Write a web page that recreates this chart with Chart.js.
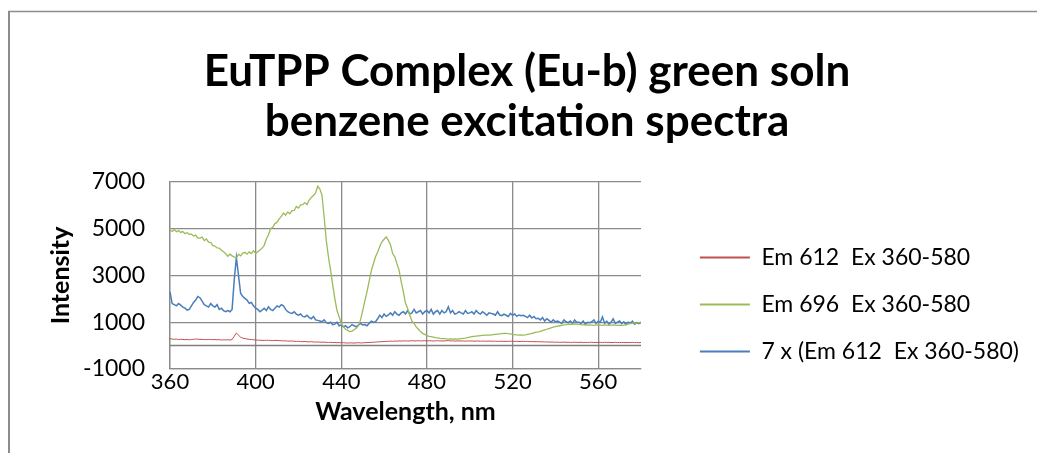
<!DOCTYPE html>
<html lang="en">
<head>
  <meta charset="UTF-8">
  <title>EuTPP Complex (Eu-b) green soln benzene excitation spectra</title>
  <style>
    body { margin: 0; background: #fff; }
    #wrap { width: 1037px; height: 453px; }
  </style>
  <script src="https://cdn.jsdelivr.net/npm/chart.js"></script>
</head>
<body>
<div id="wrap"><canvas id="myChart" width="1037" height="453"></canvas></div>
<script>
  // wavelength grid, 1 nm steps from 360 to 580
  const startNm = 360
  const stepNm = 1

  const seriesNames = ["Em 612  Ex 360-580", "Em 696  Ex 360-580", "7 x (Em 612  Ex 360-580)"]

  const em612 = [
    300,280,270,280,260,270,265,255,260,250,
    260,270,280,275,270,265,260,255,265,260,
    255,260,250,255,240,250,245,250,240,260,
    400,540,450,360,320,300,280,270,260,250,
    240,235,230,225,220,230,225,220,215,225,
    220,215,210,200,205,195,190,200,185,180,
    185,175,170,180,165,160,170,155,150,155,
    150,145,150,140,135,140,130,135,125,130,
    120,125,115,110,120,115,110,120,125,115,
    120,125,130,135,140,145,150,160,165,170,
    175,180,185,190,185,195,190,200,195,200,
    205,195,200,210,200,205,210,200,205,210,
    200,210,205,195,205,210,200,205,195,210,
    215,200,205,195,200,205,195,200,190,200,
    195,200,190,195,200,185,195,190,185,195,
    190,185,190,180,185,190,180,185,180,190,
    185,180,185,175,180,185,175,180,170,175,
    170,165,170,160,165,155,160,150,155,150,
    145,150,140,145,150,140,145,135,140,145,
    140,135,145,130,140,135,140,145,130,140,
    135,140,130,145,135,140,130,135,140,130,
    135,130,140,125,135,130,140,130,135,125,
    135
  ]

  const em696 = [
    4950,4880,4960,4870,4920,4840,4880,4790,4830,4760,
    4770,4690,4730,4600,4600,4640,4490,4560,4430,4420,
    4280,4260,4180,4170,4080,4020,3930,3820,3910,3840,
    3790,3740,3910,3840,3960,3990,3910,4010,3940,4060,
    3940,4020,4090,4170,4290,4560,4740,5010,5060,5220,
    5280,5420,5530,5670,5580,5720,5640,5770,5780,5950,
    5880,6020,6030,6120,6030,6220,6340,6420,6530,6820,
    6700,6430,5500,4500,3800,3230,2600,2000,1500,1230,
    950,810,700,650,600,620,680,740,850,1100,
    1500,1900,2300,2750,3200,3500,3800,4000,4250,4440,
    4550,4650,4500,4300,3940,3800,3500,3230,2730,2300,
    1810,1590,1300,1050,950,800,700,600,525,480,
    430,400,380,360,340,330,310,300,300,290,
    280,290,280,285,280,290,300,310,320,340,
    360,380,400,410,420,430,440,450,445,450,
    460,470,480,490,500,510,520,525,510,500,
    480,470,460,450,455,450,460,480,500,520,
    550,580,590,610,640,670,700,730,760,790,
    810,830,850,870,890,900,920,910,920,930,
    920,910,900,890,900,880,890,880,870,880,
    890,880,870,890,880,870,880,890,880,870,
    880,870,880,900,920,940,960,970,960,980,
    970
  ]

  const em612x7 = [
    2300,1800,1750,1700,1800,1730,1650,1600,1520,1550,
    1700,1850,1950,2100,2050,1900,1750,1700,1650,1800,
    1700,1650,1750,1550,1600,1500,1450,1500,1450,1550,
    2800,3770,3000,2230,2100,2020,1950,1810,1850,1700,
    1600,1550,1450,1520,1600,1500,1660,1550,1500,1600,
    1700,1650,1750,1700,1550,1450,1400,1380,1450,1350,
    1300,1350,1250,1230,1300,1200,1150,1250,1100,1080,
    1050,1020,1100,980,950,1000,900,920,1000,850,
    880,800,850,760,810,900,850,800,880,950,
    880,900,850,950,1050,1000,1020,1150,1300,1200,
    1350,1250,1310,1400,1300,1450,1350,1300,1400,1450,
    1350,1500,1350,1400,1550,1400,1450,1500,1350,1450,
    1500,1400,1550,1350,1450,1500,1350,1500,1400,1450,
    1660,1400,1500,1350,1380,1450,1400,1350,1500,1380,
    1400,1450,1350,1500,1400,1350,1450,1380,1300,1400,
    1380,1350,1300,1450,1310,1280,1350,1300,1250,1380,
    1300,1350,1250,1310,1280,1300,1250,1200,1300,1180,
    1250,1150,1170,1100,1200,1050,1150,1080,1000,1100,
    1020,1050,1000,950,1100,1020,980,1050,950,1100,
    1000,1000,950,1050,900,1000,980,1020,1100,950,
    1050,1000,1230,950,1050,920,1000,1150,950,1000,
    1050,940,1020,900,1000,960,1050,920,980,940,
    1000
  ]

  const xTicks = [360, 400, 440, 480, 520, 560]
  const yTicks = [-1000, 1000, 3000, 5000, 7000]

  const colors = ["#C0504D", "#9BBB59", "#4A7EBB"]
  const widths = [1, 1.3, 1.5]

  function toPoints(values) {
    return values.map((v, i) => ({ x: startNm + i * stepNm, y: v }))
  }

  const font = "Lato, 'Open Sans', sans-serif"
  const gridColor = "#8a8a8a"
  const plotRight = 641
  const padRight = 8

  // frame round the chart and the zero line (x axis crosses at 0)
  const extras = {
    id: "extras",
    beforeDraw(chart) {
      const ctx = chart.ctx
      ctx.save()
      ctx.strokeStyle = "#8c8c8c"
      ctx.lineWidth = 2
      ctx.beginPath()
      ctx.moveTo(9, 453)
      ctx.lineTo(9, 11)
      ctx.stroke()
      ctx.lineWidth = 1.5
      ctx.beginPath()
      ctx.moveTo(8, 11.5)
      ctx.lineTo(1037, 11.5)
      ctx.stroke()
      ctx.restore()
    },
    beforeDatasetsDraw(chart) {
      const ctx = chart.ctx
      const y0 = chart.scales.y.getPixelForValue(0)
      ctx.save()
      ctx.strokeStyle = "#7f7f7f"
      ctx.lineWidth = 1.5
      ctx.beginPath()
      ctx.moveTo(chart.chartArea.left, y0)
      ctx.lineTo(chart.chartArea.right, y0)
      ctx.stroke()
      ctx.restore()
    }
  }

  const data = {
    datasets: [em612, em696, em612x7].map((vals, i) => ({
      label: seriesNames[i],
      data: toPoints(vals),
      borderColor: colors[i],
      backgroundColor: colors[i],
      borderWidth: widths[i],
      pointRadius: 0,
      tension: 0
    }))
  }

  const config = {
    type: "line",
    data,
    plugins: [extras],
    options: {
      responsive: false,
      animation: false,
      layout: { padding: { left: 25, right: padRight, top: 0, bottom: 0 } },
      plugins: {
        tooltip: { enabled: false },
        title: {
          display: true,
          text: ["EuTPP Complex (Eu-b) green soln", "benzene excitation spectra"],
          color: "#000",
          font: { family: font, size: 44, weight: "bold", lineHeight: 1.136 },
          padding: { top: 47, bottom: 35 }
        },
        legend: {
          position: "right",
          align: "start",
          maxWidth: 500,
          title: { display: true, text: "", font: { size: 12, lineHeight: 1 }, padding: { top: 210, bottom: 0 } },
          labels: {
            color: "#000",
            font: { family: font, size: 23 },
            boxWidth: 50,
            boxHeight: 2,
            padding: 24,
            generateLabels(chart) {
              return Chart.defaults.plugins.legend.labels.generateLabels(chart)
                .map(item => Object.assign(item, { lineWidth: 0 }))
            }
          }
        }
      },
      scales: {
        x: {
          type: "linear",
          min: 360,
          max: 580,
          afterBuildTicks(scale) { scale.ticks = xTicks.map(v => ({ value: v })) },
          afterFit(scale) { scale.height = 84 },
          grid: { color: gridColor, lineWidth: 1.3, drawTicks: false },
          border: { color: gridColor, width: 1.3 },
          ticks: { color: "#000", font: { family: font, size: 22 }, padding: 0, maxRotation: 0, callback: v => String(v) },
          title: {
            display: true,
            text: "Wavelength, nm",
            color: "#000",
            font: { family: font, size: 25, weight: "bold" },
            padding: { top: 0, bottom: 26 }
          }
        },
        y: {
          min: -1000,
          max: 7000,
          afterBuildTicks(scale) { scale.ticks = yTicks.map(v => ({ value: v })) },
          afterFit(scale) { scale.width = 145 },
          grid: { color: gridColor, lineWidth: 1.3, drawTicks: false },
          border: { color: gridColor, width: 1.3 },
          ticks: { color: "#000", font: { family: font, size: 23 }, padding: 25, callback: v => String(v) },
          title: {
            display: true,
            text: "Intensity",
            color: "#000",
            font: { family: font, size: 25, weight: "bold" },
            padding: { top: 21, bottom: 0 }
          }
        },
        gap: {
          type: "linear",
          position: "right",
          display: true,
          afterFit(scale) { scale.width = Math.max(0, scale.chart.width - padRight - scale.chart.legend.width - plotRight) },
          grid: { display: false },
          border: { display: false },
          ticks: { display: false }
        }
      }
    }
  }

  const myChart = new Chart(document.getElementById("myChart"), config)
</script>
</body>
</html>
